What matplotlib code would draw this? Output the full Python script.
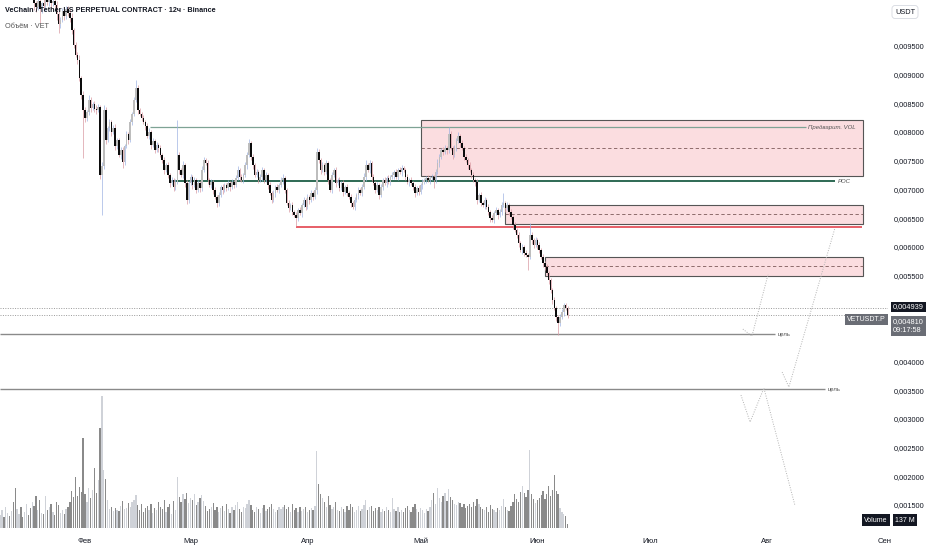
import numpy as np
import pandas as pd
import matplotlib
matplotlib.use("Agg")
import matplotlib.pyplot as plt
import matplotlib.dates as mdates
from matplotlib.patches import Rectangle

plt.rcParams['font.family'] = ['Liberation Sans', 'DejaVu Sans']

# 12h candles, prices in millionths of USDT
first_open = 10600
closes = np.array([
    10650, 10720, 10580, 10800, 10900, 10760, 10840, 10690, 10610, 10750, 10880, 10700, 10560, 10630, 10780, 10520, 10450, 10560,
    10250, 10180, 10290, 10150, 10240, 10200, 10310, 10260, 10320, 10240, 10280, 10220, 10050, 9880, 9960, 10100, 10020, 10150, 10080, 9990,
    9775, 9510, 9340, 9250, 8940, 8640, 8380, 8240, 8345, 8555, 8415, 8485, 8400, 8381, 8433, 7250, 7400, 8381, 7858, 8067,
    8172, 7998, 8067, 7754, 7858, 7597, 7684, 7475, 7754, 7963, 7858, 8172, 8311, 8555, 8764, 8381, 8311, 8242, 8172, 8102,
    7928, 7998, 7771, 7841, 7684, 7771, 7719, 7597, 7510, 7336, 7423, 7249, 7109, 7162, 7040, 7127, 7597, 7336, 7249, 7423,
    7109, 6813, 7109, 7214, 7074, 7162, 6987, 7109, 7022, 7336, 7510, 7458, 7162, 7074, 7127, 6987, 6865, 6761, 6900, 7040,
    6987, 7074, 7022, 7109, 7040, 7127, 7074, 7197, 7336, 7214, 7162, 7249, 7423, 7597, 7806, 7562, 7423, 7249, 7301, 7162,
    7214, 7336, 7162, 7249, 7074, 6935, 6813, 6935, 7040, 6987, 7074, 7162, 7197, 6987, 6761, 6674, 6726, 6604, 6552, 6500,
    6639, 6587, 6726, 6813, 6691, 6865, 6813, 6935, 6865, 6987, 7649, 7510, 7336, 7423, 7301, 7458, 7162, 6987, 7249, 7336,
    7109, 7162, 7022, 7109, 6952, 7040, 6935, 6865, 6761, 6691, 6813, 6900, 6987, 6935, 7040, 7214, 7423, 7336, 7458, 7214,
    7109, 6987, 7074, 6900, 7040, 7162, 7109, 7197, 7127, 7214, 7249, 7301, 7214, 7336, 7301, 7371, 7336, 7214, 7127, 7162,
    7109, 7040, 6935, 7022, 6952, 7074, 7127, 7162, 7197, 7162, 7197, 7214, 7162, 7301, 7458, 7562, 7684, 7649, 7719, 7684,
    7963, 7719, 7597, 7719, 7841, 7928, 7806, 7719, 7562, 7510, 7423, 7336, 7249, 7162, 7127, 6813, 6900, 6761, 6726, 6813,
    6691, 6604, 6500, 6465, 6587, 6639, 6552, 6604, 6726, 6761, 6674, 6726, 6604, 6517, 6378, 6291, 6203, 6064, 5942, 5994,
    5890, 5855, 5820, 6203, 6116, 6029, 6116, 6029, 5942, 5820, 5716, 5646, 5541, 5420, 5246, 5071, 4932, 4775, 4670, 4775,
    4862, 4984, 4939, 4810,
]) / 1e6

wick_hi = np.array([
    60, 40, 90, 50, 30, 70, 40, 60, 80, 50, 40, 60, 30, 70, 50, 40, 60, 50, 70, 40,
    50, 60, 30, 80, 40, 50, 60, 30, 50, 40, 70, 50, 40, 60, 30, 50, 40, 60, 80, 40,
    60, 50, 90, 40, 70, 50, 40, 85, 60, 30, 50, 70, 60, 40, 80, 90, 50, 40, 60, 30,
    50, 70, 40, 30, 60, 50, 40, 60, 30, 50, 40, 60, 140, 50, 40, 30, 60, 40, 50, 70,
    40, 60, 30, 50, 40, 60, 30, 50, 40, 60, 30, 50, 40, 60, 610, 50, 40, 70, 30, 60,
    40, 50, 30, 60, 40, 50, 30, 70, 60, 40, 50, 30, 60, 40, 50, 30, 60, 40, 50, 40,
    30, 60, 40, 50, 30, 60, 70, 40, 50, 30, 60, 50, 80, 40, 50, 30, 60, 40, 50, 60,
    40, 50, 30, 60, 40, 50, 30, 60, 40, 50, 70, 40, 30, 50, 40, 60, 30, 50, 40, 60,
    30, 50, 40, 60, 30, 50, 40, 60, 70, 50, 40, 60, 30, 50, 40, 30, 60, 40, 50, 30,
    60, 40, 50, 30, 60, 40, 50, 30, 60, 40, 50, 30, 60, 70, 90, 40, 50, 30, 60, 40,
    50, 30, 60, 40, 50, 30, 60, 40, 50, 30, 60, 40, 50, 60, 40, 30, 50, 40, 60, 30,
    50, 40, 60, 30, 50, 40, 30, 50, 40, 60, 30, 60, 70, 50, 40, 60, 50, 40, 120, 50,
    40, 60, 50, 70, 40, 50, 30, 60, 40, 50, 30, 60, 40, 50, 30, 60, 40, 50, 30, 60,
    40, 50, 30, 60, 40, 50, 60, 174, 40, 50, 30, 60, 40, 50, 30, 60, 40, 50, 30, 60,
    40, 210, 50, 30, 60, 40, 50, 30, 60, 40, 50, 30, 40, 30, 50, 40, 30, 60, 50, 36,
    40, 30,
]) / 1e6

wick_lo = np.array([
    50, 70, 40, 60, 30, 50, 80, 40, 60, 50, 30, 70, 40, 60, 50, 40, 60, 30, 120, 90,
    60, 250, 80, 60, 90, 50, 60, 80, 40, 70, 90, 160, 60, 40, 70, 50, 60, 80, 60, 50,
    40, 60, 50, 70, 835, 60, 40, 50, 60, 40, 50, 60, 40, 70, 698, 50, 60, 40, 50, 60,
    40, 60, 50, 40, 60, 104, 50, 40, 60, 30, 50, 40, 30, 60, 40, 50, 30, 60, 40, 50,
    60, 40, 50, 30, 60, 40, 50, 60, 40, 50, 60, 40, 70, 50, 40, 60, 30, 50, 60, 70,
    50, 40, 60, 30, 50, 40, 60, 50, 40, 30, 60, 40, 50, 60, 40, 70, 50, 40, 60, 30,
    50, 40, 60, 30, 50, 40, 30, 60, 40, 50, 30, 60, 40, 50, 60, 40, 30, 50, 40, 60,
    50, 40, 60, 30, 50, 40, 60, 30, 50, 40, 60, 50, 40, 60, 30, 50, 40, 140, 50, 40,
    60, 30, 50, 40, 60, 30, 50, 40, 60, 50, 70, 40, 50, 30, 60, 40, 50, 30, 60, 40,
    50, 40, 60, 30, 50, 40, 60, 40, 50, 30, 60, 40, 50, 30, 60, 40, 50, 60, 30, 50,
    40, 60, 30, 50, 40, 60, 30, 50, 40, 60, 30, 50, 40, 60, 30, 50, 40, 60, 30, 50,
    60, 40, 50, 30, 60, 40, 50, 30, 60, 40, 140, 50, 40, 60, 30, 50, 40, 60, 50, 40,
    60, 30, 50, 40, 60, 30, 50, 40, 60, 30, 50, 40, 60, 70, 40, 50, 30, 60, 40, 50,
    60, 40, 50, 30, 60, 40, 50, 30, 60, 40, 50, 30, 60, 40, 50, 60, 40, 70, 50, 40,
    226, 40, 60, 50, 40, 60, 50, 40, 60, 50, 40, 60, 50, 70, 40, 60, 209, 50, 40, 60,
    40, 50,
]) / 1e6

# volume per candle, millions VET
volume = np.array([
    450, 620, 380, 700, 520, 410, 590, 880, 1350, 640, 480, 720, 390, 560, 810, 430, 670, 900, 740, 1100,
    620, 940, 520, 480, 1090, 610, 700, 830, 560, 450, 900, 780, 520, 610, 470, 640, 720, 880, 1250, 1050,
    1730, 1100, 1380, 1210, 3060, 1150, 900, 1360, 1020, 1290, 2040, 1190, 1630, 3400, 4490, 1970, 1650, 950, 640, 720,
    580, 690, 610, 580, 760, 910, 640, 690, 850, 720, 880, 950, 1120, 780, 620, 830, 560, 690, 740, 620,
    800, 520, 690, 610, 880, 730, 650, 940, 560, 720, 820, 490, 910, 600, 1730, 1040, 880, 1150, 990, 1190,
    860, 1030, 950, 1150, 780, 900, 1020, 1120, 920, 760, 580, 640, 700, 850, 600, 720, 540, 680, 760, 590,
    830, 650, 520, 700, 610, 780, 900, 640, 560, 720, 690, 820, 940, 780, 600, 560, 730, 640, 510, 680,
    770, 590, 640, 720, 810, 660, 560, 600, 720, 640, 700, 780, 660, 720, 560, 820, 610, 680, 540, 720,
    590, 630, 700, 540, 600, 680, 620, 740, 2620, 1500, 1150, 1020, 890, 720, 1080, 780, 650, 700, 880, 610,
    590, 730, 640, 560, 760, 610, 820, 700, 540, 620, 750, 590, 660, 780, 940, 620, 700, 760, 580, 690,
    620, 730, 560, 640, 590, 710, 600, 560, 1020, 640, 580, 700, 560, 620, 530, 680, 760, 600, 540, 720,
    800, 640, 560, 680, 600, 520, 640, 580, 700, 960, 1180, 830, 1360, 1020, 880, 1100, 1190, 920, 1330, 1060,
    940, 820, 780, 900, 860, 720, 800, 690, 760, 820, 700, 880, 760, 1000, 820, 700, 640, 600, 720, 560,
    780, 650, 600, 540, 690, 620, 760, 980, 700, 620, 580, 740, 880, 1170, 980, 900, 1240, 1430, 1200, 1050,
    1300, 2650, 1170, 1000, 860, 940, 1020, 1120, 1260, 980, 1160, 1430, 1090, 1290, 1800, 1260, 1150, 680, 560, 480,
    420, 137,
])

times = pd.date_range("2026-01-09 12:00", periods=len(closes), freq="12h")
opens = np.r_[first_open / 1e6, closes[:-1]]
highs = np.maximum(opens, closes) + wick_hi
lows = np.minimum(opens, closes) - wick_lo

# drawn levels
pre_vol = 0.008085
pre_vol_span = ("2026-02-18 05:00", "2026-08-11 07:00")
poc = 0.007145
poc_span = ("2026-02-23 12:00", "2026-08-18 22:00")
red_level = 0.006343
red_span = ("2026-03-29 00:00", "2026-08-26 02:00")
targets = [0.004479, 0.00352]
target_ends = ["2026-08-03 00:00", "2026-08-16 07:00"]
prev_price = 0.004939
last_price = 0.00481

zone_starts = ["2026-05-01 03:00", "2026-05-23 10:00", "2026-06-03 00:00"]
zone_bottoms = [0.007232, 0.006395, 0.00549]
zone_tops = [0.008207, 0.006727, 0.00582]
zone_mids = [0.00772, 0.00657, 0.005664]
zone_end = "2026-08-26 09:00"

# projected paths (dotted)
path_a_t = ["2026-07-25 12:00", "2026-07-27 22:00", "2026-08-01 05:00"]
path_a_p = [0.004566, 0.004444, 0.005524]
path_b_t = ["2026-08-04 22:00", "2026-08-06 17:00", "2026-08-18 22:00"]
path_b_p = [0.003817, 0.003556, 0.006325]
path_c_t = ["2026-07-25 00:00", "2026-07-27 10:00", "2026-07-31 02:00", "2026-08-08 07:00"]
path_c_p = [0.003416, 0.002946, 0.003538, 0.0015]

month_starts = ["2026-02-01", "2026-03-01", "2026-04-01", "2026-05-01",
                "2026-06-01", "2026-07-01", "2026-08-01", "2026-09-01"]
month_labels = ["Фев", "Мар", "Апр", "Май", "Июн", "Июл", "Авг", "Сен"]
# 0.0045 and 0.005 sit under the price labels
price_ticks = [0.0015, 0.002, 0.0025, 0.003, 0.0035, 0.004,
               0.0055, 0.006, 0.0065, 0.007, 0.0075, 0.008, 0.0085, 0.009, 0.0095]


def dn(s):
    return mdates.date2num(pd.Timestamp(s))


fig = plt.figure(figsize=(9.32, 5.5), dpi=100)
ax = fig.add_axes([0, 22 / 550, 888 / 932, 528 / 550])
axv = ax.twinx()
axv.set_zorder(ax.get_zorder() - 1)
ax.patch.set_visible(False)

t = mdates.date2num(times)
up = closes >= opens
bw = 0.42

# volume
axv.bar(t, volume, width=0.34, color=np.where(up, '#cfd2d8', '#8a8a8a'), linewidth=0)
axv.set_ylim(0, 17950)
axv.axis('off')

# candles
ax.vlines(t[up], lows[up], highs[up], color='#9fb3e3', lw=0.5, zorder=3)
ax.vlines(t[~up], lows[~up], highs[~up], color='#d99aa3', lw=0.5, zorder=3)
body_h = np.maximum(np.abs(closes - opens), 0.000012)
ax.bar(t, body_h, bottom=np.minimum(opens, closes), width=bw,
       color=np.where(up, '#bdbdbd', '#0c0c0c'), linewidth=0, zorder=4)

# zones
for s, b, tp, m in zip(zone_starts, zone_bottoms, zone_tops, zone_mids):
    x0 = dn(s)
    ax.add_patch(Rectangle((x0, b), dn(zone_end) - x0, tp - b, facecolor='#fbdde0',
                           edgecolor='#555555', lw=0.8, zorder=1))
    ax.hlines(m, x0, dn(zone_end), colors='#7d5a5a', lw=0.6, linestyles=(0, (4, 3)), zorder=2)

# horizontal levels
ax.hlines(pre_vol, dn(pre_vol_span[0]), dn(pre_vol_span[1]), colors='#7ea395', lw=0.9, zorder=2)
ax.annotate("Предварит. VOL", (dn(pre_vol_span[1]), pre_vol), xytext=(1.5, 0),
            textcoords='offset points', fontsize=4.3, style='italic', color='#555555', va='center')
ax.hlines(poc, dn(poc_span[0]), dn(poc_span[1]), colors='#1d5e47', lw=1.3, zorder=2)
ax.annotate("POC", (dn(poc_span[1]), poc), xytext=(2, 0),
            textcoords='offset points', fontsize=4.3, style='italic', color='#555555', va='center')
ax.hlines(red_level, dn(red_span[0]), dn(red_span[1]), colors='#e0333f', lw=1.1, zorder=2)

x_left = t[0] - 1 / 24
for lvl, end in zip(targets, target_ends):
    ax.hlines(lvl, x_left, dn(end), colors='#8a8a8a', lw=1.0, zorder=2)
    ax.annotate("цель", (dn(end), lvl), xytext=(2, 0), textcoords='offset points',
                fontsize=4.3, color='#555555', va='center')

ax.axhline(prev_price, color='#9a9a9a', lw=0.7, ls=(0, (1, 1.5)), zorder=2)
ax.axhline(last_price, color='#9a9a9a', lw=0.7, ls=(0, (1, 1.5)), zorder=2)

for pt, pp in [(path_a_t, path_a_p), (path_b_t, path_b_p), (path_c_t, path_c_p)]:
    ax.plot([dn(s) for s in pt], pp, color='#b3b3b3', lw=0.7, ls=(0, (1, 1.5)), zorder=2)

# axes
ax.set_xlim(x_left, dn("2026-09-02 00:00"))
ax.set_ylim(0.0011, 0.0103)
for sp in ax.spines.values():
    sp.set_visible(False)
ax.yaxis.tick_right()
ax.set_yticks(price_ticks)
ax.set_yticklabels([f"{v:.6f}".replace('.', ',') for v in price_ticks])
ax.tick_params(axis='y', length=0, pad=4, labelsize=5.3, labelcolor='#131722')
ax.set_xticks([dn(m) for m in month_starts])
ax.set_xticklabels(month_labels)
ax.tick_params(axis='x', length=0, pad=7, labelsize=5.5, labelcolor='#131722')

# price labels on the scale
ax.annotate(f"{prev_price:.6f}".replace('.', ','), (1, prev_price),
            xycoords=('axes fraction', 'data'), xytext=(3.5, 0.5), textcoords='offset points',
            va='center', ha='left', fontsize=5.3, color='white', annotation_clip=False, zorder=10,
            bbox=dict(boxstyle='square,pad=0.25', fc='#131722', ec='none'))
ax.annotate(f"{last_price:.6f}".replace('.', ',') + "\n09:17:58", (1, last_price),
            xycoords=('axes fraction', 'data'), xytext=(3.5, -2.2), textcoords='offset points',
            va='top', ha='left', fontsize=5.3, color='white', linespacing=1.35,
            annotation_clip=False, zorder=10,
            bbox=dict(boxstyle='square,pad=0.25', fc='#6a6d75', ec='none'))
ax.annotate("VETUSDT.P", (1, last_price), xycoords=('axes fraction', 'data'),
            xytext=(-1.5, -3), textcoords='offset points', va='center', ha='right',
            fontsize=5.0, color='white', annotation_clip=False, zorder=10,
            bbox=dict(boxstyle='square,pad=0.3', fc='#6a6d75', ec='none'))

fig.text(876 / 932, 1 - 520 / 550, "Volume", ha='center', va='center', fontsize=5.0, color='white',
         bbox=dict(boxstyle='square,pad=0.3', fc='#131722', ec='none'))
fig.text(905 / 932, 1 - 520 / 550, f"{volume[-1]:.0f} M", ha='center', va='center', fontsize=5.0,
         color='white', bbox=dict(boxstyle='square,pad=0.3', fc='#131722', ec='none'))
fig.text(905 / 932, 1 - 12 / 550, "USDT", ha='center', va='center', fontsize=5.3, color='#131722',
         bbox=dict(boxstyle='round,pad=0.4', fc='white', ec='#d6d9e0', lw=0.6))

fig.text(5 / 932, 1 - 11 / 550, "VeChain / Tether US PERPETUAL CONTRACT · 12ч · Binance",
         fontsize=5.2, weight='bold', color='#131722', va='center')
fig.text(5 / 932, 1 - 27 / 550, "Объём · VET", fontsize=5.3, color='#555555', va='center')

fig.savefig("out.png", dpi=100, facecolor='white')
